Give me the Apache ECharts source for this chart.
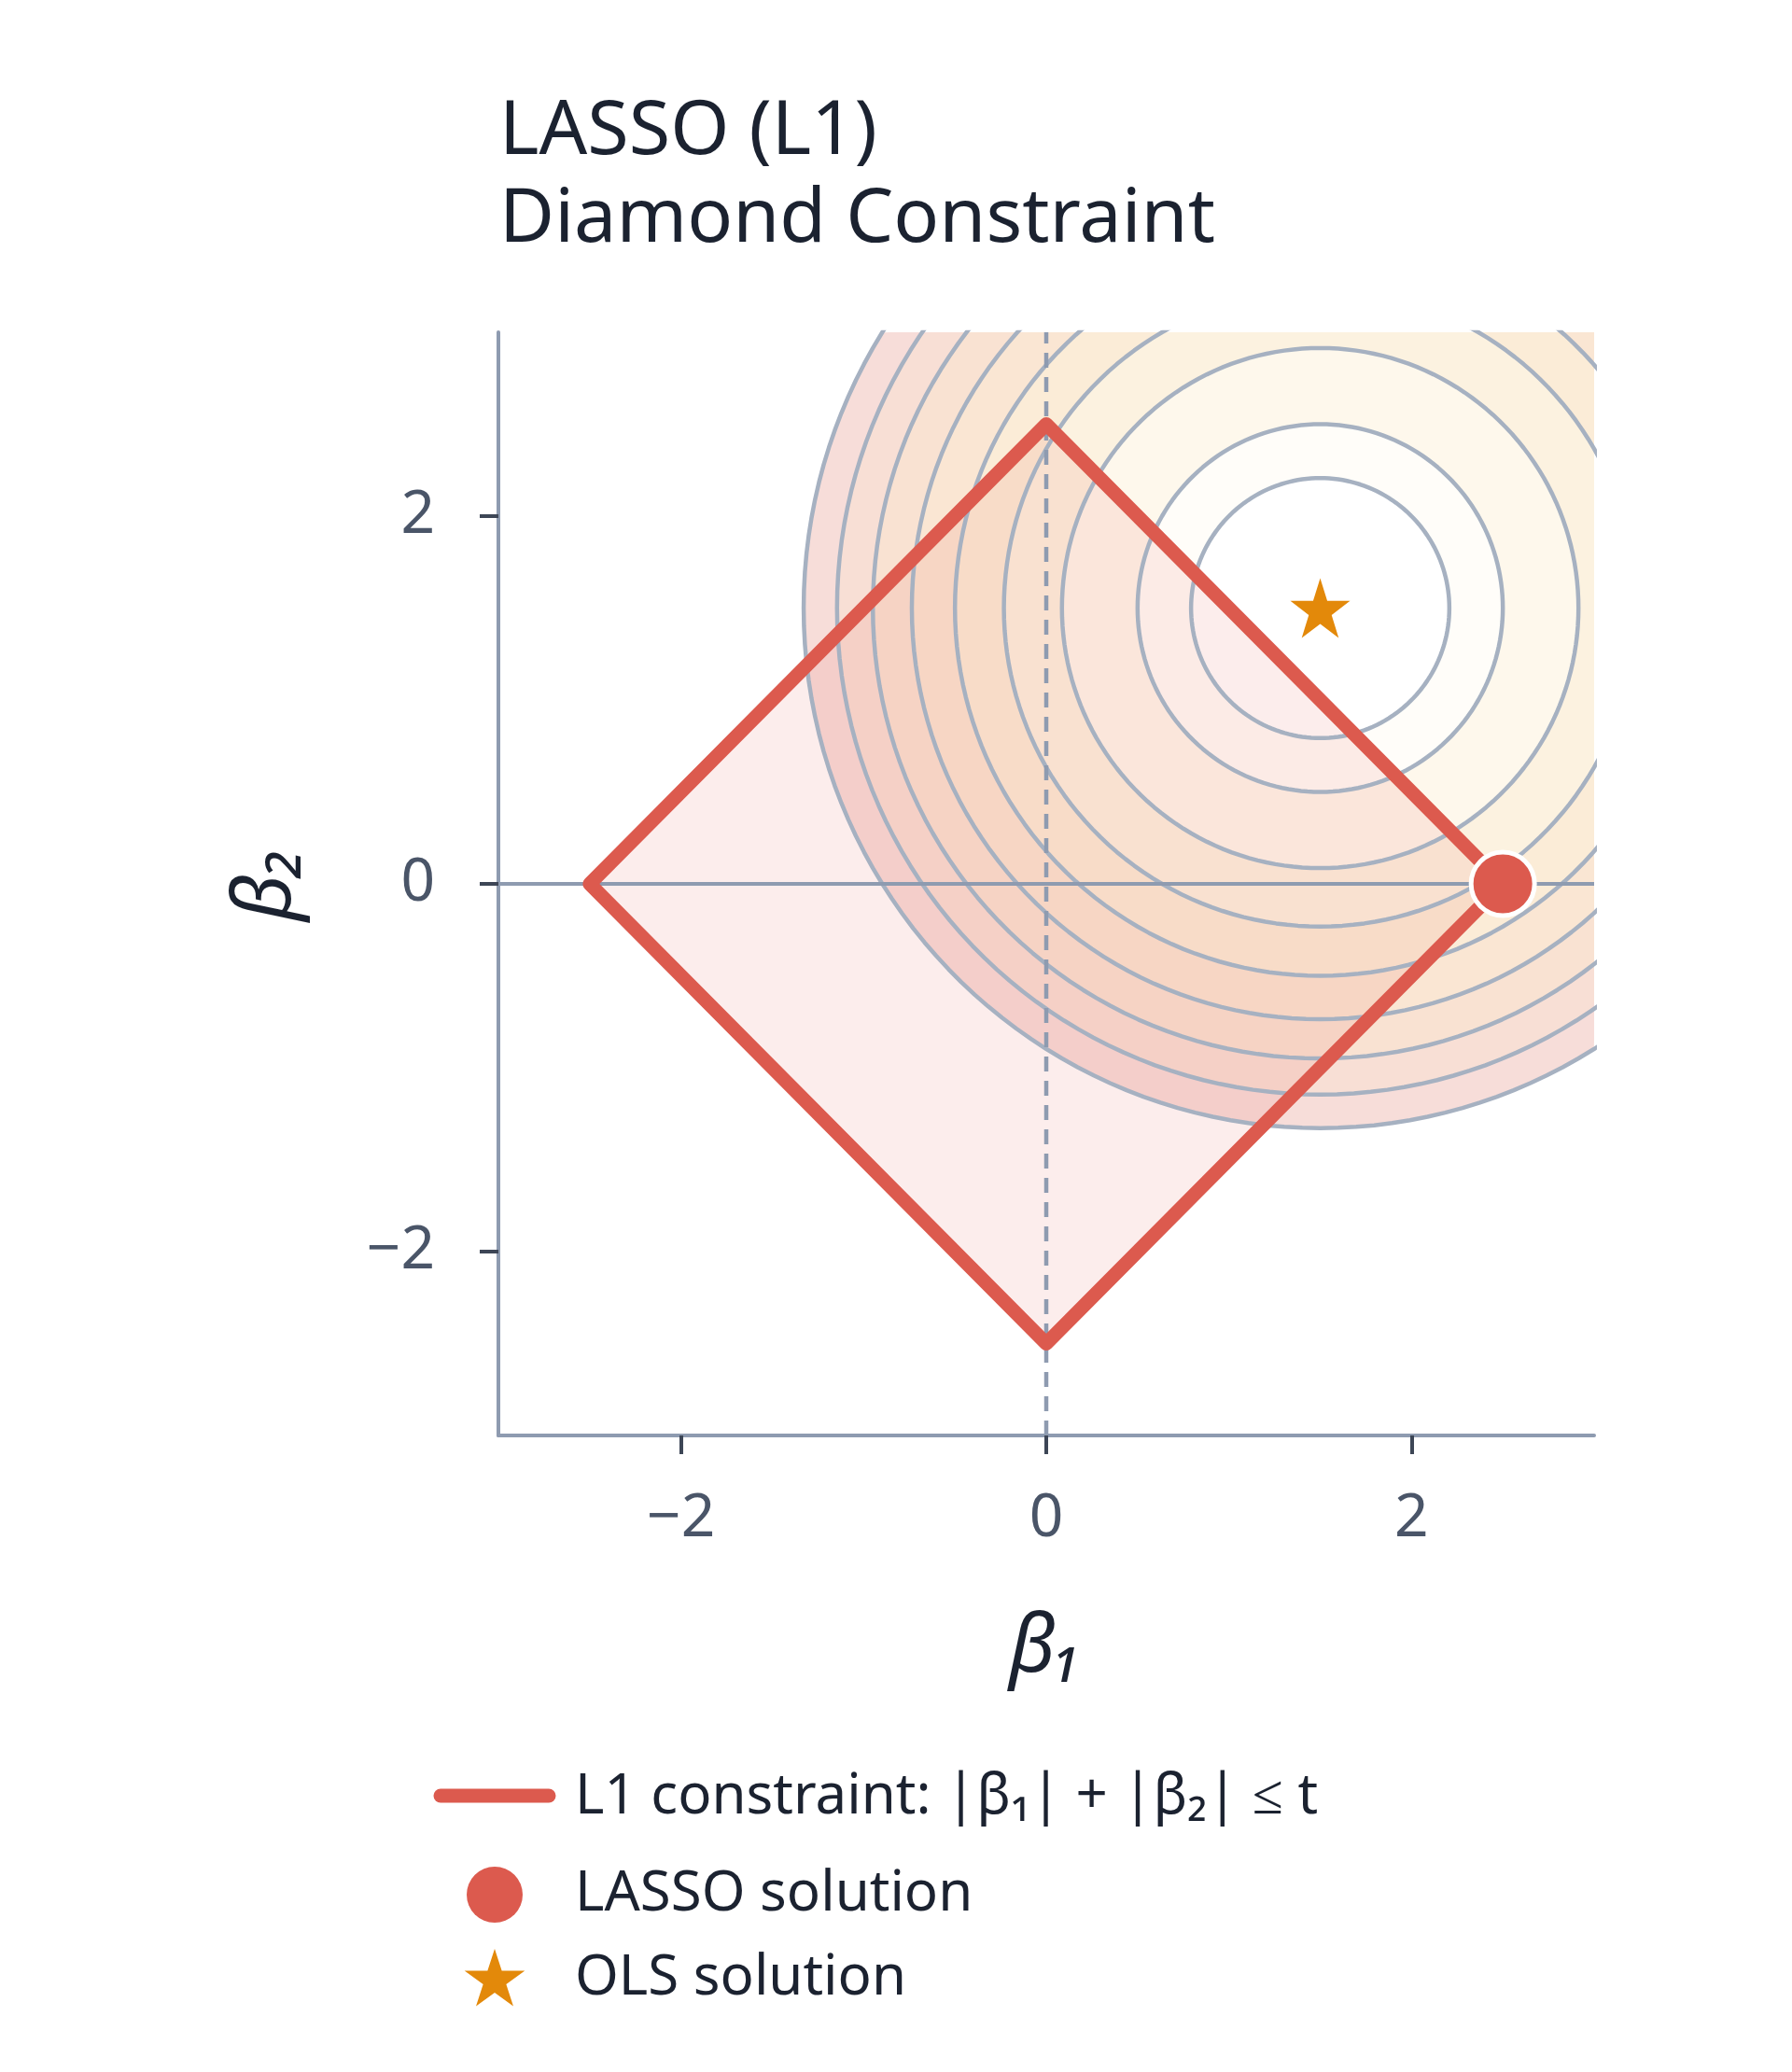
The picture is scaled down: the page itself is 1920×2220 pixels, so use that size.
<!DOCTYPE html>
<html>
<head>
<meta charset="utf-8">
<script src="https://cdn.jsdelivr.net/npm/echarts@6/dist/echarts.min.js"></script>
<style>html,body{margin:0;background:#fff}#main{width:1920px;height:2220px}</style>
</head>
<body>
<div id="main"></div>
<script>
var tickValues = [-2, 0, 2];
var olsPoint = [1.5, 1.5];
var lassoPoint = [2.5, 0];
var diamond = [[2.5, 0], [0, 2.5], [-2.5, 0], [0, -2.5], [2.5, 0]];
// contour levels of (b1-1.5)^2 + (b2-1.5)^2
var levels = [0.5, 1, 2, 3, 4, 5, 6, 7, 8];
var bandColors = ['#ffffff', '#fffdf9', '#fef8ec', '#fcf2e0', '#fbecd7', '#fae6d3', '#f9e2d2', '#f8dfd5', '#f7ddd9'];

var starPath = 'path://M50,0 L61.8,36.2 L100,36.2 L69.1,58.6 L80.9,95.1 L50,72.7 L19.1,95.1 L30.9,58.6 L0,36.2 L38.2,36.2 Z';

function ring(level){
  var r = Math.sqrt(level), pts = [];
  for (var i = 0; i <= 180; i++) {
    var a = i / 180 * Math.PI * 2;
    pts.push([olsPoint[0] + r * Math.cos(a), olsPoint[1] + r * Math.sin(a)]);
  }
  return pts;
}
function starPoints(cx, cy, R){
  var pts = [];
  for (var i = 0; i < 10; i++) {
    var rr = i % 2 ? R * 0.382 : R, a = -Math.PI / 2 + i * Math.PI / 5;
    pts.push([cx + rr * Math.cos(a), cy + rr * Math.sin(a)]);
  }
  return pts;
}

var series = [];
// filled bands, outside first
for (var k = levels.length - 1; k >= 0; k--) {
  (function(pts, col){
    series.push({
      type: 'custom', silent: true, z: 1,
      data: [0],
      renderItem: function(params, api){
        var cs = params.coordSys;
        var p = pts.map(function(d){ return api.coord(d); });
        p = echarts.graphic.clipPointsByRect(p, {x: cs.x, y: cs.y, width: cs.width, height: cs.height});
        return {type: 'polygon', shape: {points: p}, style: {fill: col}};
      }
    });
  })(ring(levels[k]), bandColors[k]);
}
// diamond fill
series.push({
  type: 'custom', silent: true, z: 2, data: [0],
  renderItem: function(params, api){
    var p = diamond.map(function(d){ return api.coord(d); });
    return {type: 'polygon', shape: {points: p}, style: {fill: 'rgba(226,90,80,0.11)'}};
  }
});
// contour lines
levels.forEach(function(lv){
  series.push({
    type: 'line', data: ring(lv), showSymbol: false, silent: true, z: 3,
    lineStyle: {color: '#a6b1c1', width: 4.5}
  });
});
// zero lines
series.push({type: 'line', data: [[-3, 0], [3, 0]], showSymbol: false, silent: true, z: 4,
  lineStyle: {color: '#8e9bb0', width: 4}});
series.push({type: 'line', data: [[0, -3], [0, 3]], showSymbol: false, silent: true, z: 4,
  lineStyle: {color: '#8e9bb0', width: 4.5, type: [16, 10]}});
// diamond outline
series.push({type: 'line', data: diamond, showSymbol: false, silent: true, z: 5,
  lineStyle: {color: '#dc5a4e', width: 15, join: 'round'}});
series.push({type: 'scatter', data: [lassoPoint], symbol: 'circle', symbolSize: 68, z: 6, silent: true,
  itemStyle: {color: '#dc5a4e', borderColor: '#fff', borderWidth: 5, opacity: 1}});
series.push({type: 'scatter', data: [olsPoint], symbol: starPath, symbolSize: 64, z: 6, silent: true,
  itemStyle: {color: '#e3890a', opacity: 1}});

var txt = '#4a5568';
var font = '"Noto Sans", "DejaVu Sans", sans-serif';
var lg = {fontSize: 60, fill: '#1b2230', fontFamily: 'Noto Sans', verticalAlign: 'middle'};
var myChart = echarts.init(document.getElementById('main'));
myChart.setOption({
  animation: false,
  textStyle: {fontFamily: font},
  title: {
    text: 'LASSO (L1)\nDiamond Constraint', left: 530, top: 90,
    textStyle: {fontSize: 81, fontWeight: 'normal', color: '#1b2230', lineHeight: 94, fontFamily: font}
  },
  grid: {left: 534, right: 212, top: 356, bottom: 682},
  xAxis: {
    type: 'value', min: -3, max: 3,
    name: 'β₁', nameLocation: 'middle', nameGap: 185,
    nameTextStyle: {fontSize: 86, fontStyle: 'italic', color: '#1b2230', fontFamily: font},
    axisLine: {show: true, onZero: false, lineStyle: {color: '#8e9bb0', width: 4}},
    axisTick: {show: true, length: 20, customValues: tickValues, lineStyle: {color: '#3d4656', width: 4}},
    axisLabel: {customValues: tickValues, fontSize: 64, color: txt, margin: 58, formatter: function(v){ return String(v).replace('-', '−'); }},
    splitLine: {show: false}
  },
  yAxis: {
    type: 'value', min: -3, max: 3,
    name: 'β₂', nameLocation: 'middle', nameGap: 205, nameRotate: 90,
    nameTextStyle: {fontSize: 86, fontStyle: 'italic', color: '#1b2230', fontFamily: font},
    axisLine: {show: true, onZero: false, lineStyle: {color: '#8e9bb0', width: 4}},
    axisTick: {show: true, length: 20, customValues: tickValues, lineStyle: {color: '#3d4656', width: 4}},
    axisLabel: {customValues: tickValues, fontSize: 64, color: txt, margin: 68, formatter: function(v){ return String(v).replace('-', '−'); }},
    splitLine: {show: false}
  },
  graphic: [
    {type: 'line', shape: {x1: 472, y1: 1924, x2: 588, y2: 1924}, style: {stroke: '#dc5a4e', lineWidth: 15, lineCap: 'round'}},
    {type: 'text', x: 616, y: 1926, style: Object.assign({text: 'L1 constraint: |β₁| + |β₂| ≤ t'}, lg)},
    {type: 'circle', shape: {cx: 530, cy: 2030, r: 30}, style: {fill: '#dc5a4e'}},
    {type: 'text', x: 616, y: 2030, style: Object.assign({text: 'LASSO solution'}, lg)},
    {type: 'polygon', shape: {points: starPoints(530, 2122, 34)}, style: {fill: '#e3890a'}},
    {type: 'text', x: 616, y: 2120, style: Object.assign({text: 'OLS solution'}, lg)}
  ],
  series: series
});
</script>
</body>
</html>
